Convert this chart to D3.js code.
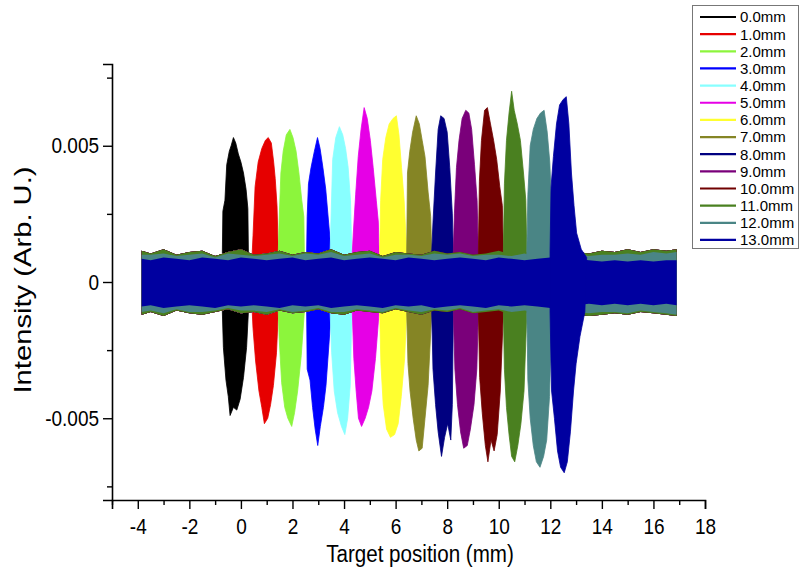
<!DOCTYPE html>
<html>
<head>
<meta charset="utf-8">
<script src="https://cdn.jsdelivr.net/npm/d3@7/dist/d3.min.js"></script>
<style>
body { margin: 0; background: #fff; }
text { font-family: Arial, "Liberation Sans", sans-serif; fill: #000; }
</style>
</head>
<body>
<script>
var w = 799, h = 573;

// legend names, one per curve
var names = ["0.0mm","1.0mm","2.0mm","3.0mm","4.0mm","5.0mm","6.0mm",
             "7.0mm","8.0mm","9.0mm","10.0mm","11.0mm","12.0mm","13.0mm"];
var palette = ["#000000","#e60000","#8cf53c","#0000ff","#88ffff","#e600e6","#ffff30",
               "#858525","#000080","#7a007a","#700000","#4a8020","#4a8585","#0000a0"];

var xTicks = [-4,-2,0,2,4,6,8,10,12,14,16,18];
var xMinor = [-5,-3,-1,1,3,5,7,9,11,13,15,17];
var yTicks = [-0.005, 0, 0.005];
var yTickLabels = ["-0.005", "0", "0.005"];
var yMinor = [-0.0075, -0.0025, 0.0025, 0.0075];

// background noise envelope (all curves)
var noiseX = [-3.85,-3.5,-3,-2.5,-2,-1.5,-1,-0.5,0,0.5,1,1.5,2,2.5,3,3.5,4,4.5,5,5.5,6,
              6.5,7,7.5,8,8.5,9,9.5,10,10.5,11,11.5,12,12.5,13,13.5,14,14.5,15,15.5,16,16.5,16.9];
var outerHi = [0.00115,0.00105,0.0012,0.001,0.0011,0.00115,0.00095,0.0011,0.0012,0.001,0.00105,
               0.00115,0.001,0.0011,0.00105,0.0012,0.001,0.0011,0.00115,0.00095,0.0011,0.00105,
               0.001,0.00115,0.00105,0.0011,0.001,0.00105,0.00115,0.001,0.0011,0.00095,0.00105,
               0.001,0.0011,0.00105,0.00115,0.0011,0.0012,0.0011,0.0012,0.00115,0.0012];
var outerLo = [-0.0012,-0.0011,-0.00125,-0.00105,-0.00115,-0.0012,-0.0011,-0.001,-0.00115,-0.0011,
               -0.0012,-0.00105,-0.00115,-0.0011,-0.001,-0.00115,-0.0012,-0.00105,-0.0011,-0.00115,
               -0.001,-0.0011,-0.0012,-0.00105,-0.0011,-0.001,-0.00115,-0.0011,-0.00105,-0.0012,
               -0.0011,-0.00115,-0.00105,-0.0011,-0.0012,-0.00125,-0.0012,-0.00115,-0.0012,-0.0011,
               -0.00115,-0.0012,-0.00125];
var midHi = [0.001,0.001,0.00105,0.00095,0.001,0.00105,0.0009,0.00105,0.001,0.00095,0.001,
             0.00105,0.00095,0.00105,0.001,0.0011,0.00095,0.001,0.00105,0.0009,0.001,0.001,
             0.00095,0.00105,0.001,0.00105,0.00095,0.001,0.001,0.00095,0.00105,0.0009,0.001,
             0.00095,0.001,0.00095,0.001,0.001,0.00105,0.001,0.0011,0.00105,0.0011];
var midLo = [-0.0011,-0.00105,-0.00115,-0.001,-0.0011,-0.0011,-0.00105,-0.00095,-0.00105,-0.00105,
             -0.0011,-0.001,-0.0011,-0.00105,-0.00095,-0.0011,-0.0011,-0.001,-0.00105,-0.0011,
             -0.00095,-0.00105,-0.0011,-0.001,-0.00105,-0.00095,-0.0011,-0.00105,-0.001,-0.0011,
             -0.00105,-0.0011,-0.001,-0.00105,-0.0011,-0.00115,-0.0011,-0.0011,-0.00115,-0.00105,
             -0.0011,-0.00115,-0.0012];
var innerHi = [0.00085,0.0008,0.0009,0.00085,0.0008,0.0009,0.00085,0.0008,0.0009,0.00085,0.0008,
               0.00085,0.0009,0.0008,0.00085,0.0009,0.0008,0.00085,0.0009,0.00085,0.0008,0.0009,
               0.00085,0.0008,0.00085,0.0009,0.00085,0.0008,0.0009,0.00085,0.0008,0.00085,0.0009,
               0.0009,0.00085,0.0008,0.00075,0.0008,0.00075,0.0008,0.00075,0.0008,0.0008];
var innerLo = [-0.0009,-0.00085,-0.00095,-0.0009,-0.00085,-0.0009,-0.00095,-0.00085,-0.0009,-0.00085,
               -0.0009,-0.00095,-0.00085,-0.0009,-0.00085,-0.00095,-0.0009,-0.00085,-0.0009,-0.00095,
               -0.00085,-0.0009,-0.00085,-0.00095,-0.0009,-0.00085,-0.0009,-0.00095,-0.00085,-0.0009,
               -0.00085,-0.0009,-0.00095,-0.0009,-0.00085,-0.0008,-0.00085,-0.0008,-0.00085,-0.0008,
               -0.00085,-0.0008,-0.00085];
var noiseOf = ["outer","outer","outer","outer","outer","outer","outer",
               "outer","outer","outer","outer","outer","mid","inner"];

// burst envelopes [position mm, intensity], upper and lower side
var burstHi = [
 [[-0.72,0.0011],[-0.70,0.0026],[-0.62,0.0030],[-0.55,0.0043],[-0.45,0.0048],[-0.38,0.0050],[-0.29,0.0053],[-0.2,0.0051],[-0.1,0.0047],[0.0,0.0044],[0.1,0.0040],[0.2,0.0034],[0.27,0.0027],[0.29,0.0011]],
 [[0.44,0.0011],[0.47,0.0017],[0.55,0.0035],[0.67,0.0044],[0.81,0.0049],[0.95,0.0052],[1.06,0.0053],[1.18,0.0051],[1.27,0.0044],[1.33,0.0038],[1.40,0.0028],[1.45,0.0011]],
 [[1.45,0.0011],[1.48,0.0022],[1.55,0.0040],[1.64,0.0048],[1.76,0.0054],[1.9,0.0056],[2.02,0.0053],[2.14,0.0048],[2.25,0.0040],[2.36,0.0030],[2.44,0.0024],[2.46,0.0011]],
 [[2.55,0.0011],[2.57,0.0024],[2.62,0.0036],[2.72,0.0042],[2.85,0.0048],[2.97,0.0053],[3.07,0.0049],[3.18,0.0042],[3.29,0.0034],[3.40,0.0022],[3.50,0.0011]],
 [[3.46,0.0011],[3.5,0.0025],[3.56,0.0045],[3.68,0.0053],[3.82,0.0057],[3.95,0.0054],[4.06,0.0049],[4.16,0.0042],[4.25,0.0030],[4.30,0.0011]],
 [[4.32,0.0011],[4.36,0.0018],[4.45,0.0032],[4.55,0.0046],[4.66,0.0056],[4.78,0.0064],[4.9,0.0060],[5.02,0.0052],[5.13,0.0042],[5.25,0.0030],[5.33,0.0022],[5.36,0.0011]],
 [[5.38,0.0011],[5.42,0.0030],[5.5,0.0045],[5.62,0.0053],[5.75,0.0058],[5.9,0.0060],[6.03,0.0061],[6.13,0.0054],[6.23,0.0042],[6.33,0.0030],[6.43,0.0011]],
 [[6.43,0.0011],[6.46,0.0040],[6.55,0.0048],[6.66,0.0055],[6.8,0.0061],[6.92,0.0058],[7.03,0.0052],[7.14,0.0046],[7.26,0.0033],[7.36,0.0024],[7.40,0.0011]],
 [[7.40,0.0011],[7.45,0.0022],[7.55,0.0040],[7.65,0.0056],[7.75,0.0061],[7.88,0.0060],[8.0,0.0055],[8.1,0.0042],[8.2,0.0025],[8.24,0.0011]],
 [[8.24,0.0011],[8.28,0.0025],[8.36,0.0042],[8.46,0.0052],[8.58,0.0060],[8.72,0.0063],[8.84,0.0062],[8.95,0.0056],[9.06,0.0043],[9.16,0.0030],[9.21,0.0011]],
 [[9.21,0.0011],[9.25,0.0037],[9.33,0.0052],[9.45,0.0063],[9.56,0.0064],[9.68,0.0058],[9.8,0.0052],[9.92,0.0045],[10.04,0.0035],[10.14,0.0028],[10.18,0.0011]],
 [[10.18,0.0011],[10.22,0.0036],[10.3,0.0052],[10.4,0.0062],[10.5,0.0070],[10.6,0.0063],[10.72,0.0058],[10.84,0.0052],[10.96,0.0040],[11.05,0.0030],[11.09,0.0011]],
 [[11.09,0.0011],[11.13,0.0032],[11.22,0.0050],[11.34,0.0056],[11.48,0.0060],[11.62,0.0062],[11.76,0.0063],[11.88,0.0055],[11.98,0.0044],[12.04,0.0030],[12.06,0.0011]],
 [[11.99,0.0011],[12.03,0.0035],[12.12,0.0046],[12.24,0.0058],[12.36,0.0065],[12.5,0.0067],[12.62,0.0068],[12.72,0.0058],[12.82,0.0040],[12.92,0.0028],[13.02,0.0018],[13.2,0.0012],[13.41,0.0009]]
];
var burstLo = [
 [[-0.72,-0.0011],[-0.68,-0.0024],[-0.58,-0.0036],[-0.49,-0.0042],[-0.42,-0.0049],[-0.29,-0.0046],[-0.16,-0.0047],[-0.03,-0.0043],[0.1,-0.0035],[0.22,-0.0024],[0.29,-0.0011]],
 [[0.44,-0.0011],[0.47,-0.0017],[0.57,-0.0029],[0.7,-0.0040],[0.81,-0.0046],[0.91,-0.0052],[1.04,-0.0050],[1.15,-0.0045],[1.26,-0.0038],[1.38,-0.0026],[1.45,-0.0011]],
 [[1.45,-0.0011],[1.48,-0.0020],[1.58,-0.0037],[1.7,-0.0046],[1.82,-0.0050],[1.97,-0.0053],[2.08,-0.0048],[2.2,-0.0040],[2.34,-0.0027],[2.46,-0.0011]],
 [[2.55,-0.0011],[2.57,-0.0032],[2.68,-0.0036],[2.78,-0.0046],[2.88,-0.0054],[2.98,-0.0060],[3.08,-0.0053],[3.2,-0.0046],[3.3,-0.0038],[3.42,-0.0022],[3.50,-0.0011]],
 [[3.46,-0.0011],[3.52,-0.0026],[3.62,-0.0040],[3.75,-0.0048],[3.9,-0.0053],[4.03,-0.0056],[4.14,-0.0050],[4.24,-0.0038],[4.30,-0.0011]],
 [[4.32,-0.0011],[4.38,-0.0028],[4.47,-0.0040],[4.56,-0.0050],[4.68,-0.0053],[4.82,-0.0050],[4.95,-0.0046],[5.08,-0.0040],[5.22,-0.0028],[5.36,-0.0011]],
 [[5.38,-0.0011],[5.43,-0.0030],[5.52,-0.0045],[5.65,-0.0054],[5.8,-0.0057],[5.96,-0.0056],[6.1,-0.0052],[6.22,-0.0042],[6.35,-0.0028],[6.43,-0.0011]],
 [[6.43,-0.0011],[6.48,-0.0030],[6.56,-0.0040],[6.68,-0.0050],[6.8,-0.0058],[6.9,-0.0062],[7.03,-0.0061],[7.14,-0.0050],[7.26,-0.0038],[7.40,-0.0011]],
 [[7.40,-0.0011],[7.45,-0.0032],[7.55,-0.0045],[7.65,-0.0055],[7.78,-0.0064],[7.9,-0.0057],[8.02,-0.0052],[8.14,-0.0058],[8.2,-0.0045],[8.24,-0.0011]],
 [[8.24,-0.0011],[8.3,-0.0032],[8.4,-0.0045],[8.52,-0.0055],[8.64,-0.0061],[8.78,-0.0060],[8.9,-0.0054],[9.04,-0.0045],[9.15,-0.0032],[9.21,-0.0011]],
 [[9.21,-0.0011],[9.26,-0.0035],[9.36,-0.0048],[9.48,-0.0060],[9.58,-0.0066],[9.7,-0.0058],[9.82,-0.0062],[9.94,-0.0056],[10.06,-0.0040],[10.18,-0.0011]],
 [[10.18,-0.0011],[10.22,-0.0032],[10.3,-0.0046],[10.4,-0.0056],[10.5,-0.0064],[10.62,-0.0066],[10.74,-0.0060],[10.86,-0.0052],[10.98,-0.0040],[11.09,-0.0011]],
 [[11.09,-0.0011],[11.13,-0.0036],[11.22,-0.0050],[11.34,-0.0060],[11.46,-0.0066],[11.6,-0.0068],[11.74,-0.0064],[11.86,-0.0058],[11.97,-0.0042],[12.06,-0.0011]],
 [[11.99,-0.0011],[12.05,-0.0040],[12.16,-0.0050],[12.28,-0.0062],[12.4,-0.0068],[12.54,-0.0070],[12.66,-0.0066],[12.78,-0.0055],[12.9,-0.0040],[13.0,-0.0030],[13.15,-0.0020],[13.34,-0.0011]]
];

var noiseBands = {
  outer: [outerHi, outerLo],
  mid: [midHi, midLo],
  inner: [innerHi, innerLo]
};

var x = d3.scaleLinear().domain([-5, 18]).range([112, 705]);
var y = d3.scaleLinear().domain([-0.008, 0.008]).range([500, 64]);

var svg = d3.select("body").append("svg")
    .attr("width", w)
    .attr("height", h);

var outline = d3.line().x(function(d){ return x(d[0]); }).y(function(d){ return y(d[1]); });

function closedShape(hi, lo) {
    return outline(hi.concat(lo.slice().reverse())) + "Z";
}

var plot = svg.append("g").attr("class", "curves");

names.forEach(function(n, i){
    var g = plot.append("g");
    var band = noiseBands[noiseOf[i]];
    var hi = noiseX.map(function(v, k){ return [v, band[0][k]]; });
    var lo = noiseX.map(function(v, k){ return [v, band[1][k]]; });
    g.append("path")
        .attr("d", closedShape(hi, lo))
        .style("fill", palette[i]);
    g.append("path")
        .attr("d", closedShape(burstHi[i], burstLo[i]))
        .style("fill", palette[i])
        .style("stroke", palette[i])
        .style("stroke-width", 0.8);
});

// axes
svg.append("g")
    .attr("transform", "translate(0," + y(-0.008) + ")")
    .call(d3.axisBottom(x).tickValues(xTicks).tickSize(9).tickFormat(String))
    .selectAll(".tick text")
    .attr("y", 0).attr("dy", 0)
    .attr("transform", "translate(0,34) scale(1,1.18)");
svg.append("g")
    .attr("transform", "translate(0," + y(-0.008) + ")")
    .call(d3.axisBottom(x).tickValues(xMinor).tickSize(5).tickFormat(""))
    .select(".domain").remove();

svg.append("g")
    .attr("transform", "translate(" + x(-5) + ",0)")
    .call(d3.axisLeft(y).tickValues(yTicks).tickSize(9).tickPadding(4)
        .tickFormat(function(d, i){ return yTickLabels[i]; }))
    .selectAll(".tick text")
    .attr("transform", "scale(1,1.18)");
svg.append("g")
    .attr("transform", "translate(" + x(-5) + ",0)")
    .call(d3.axisLeft(y).tickValues(yMinor).tickSize(5).tickFormat(""))
    .select(".domain").remove();

svg.selectAll(".domain").style("stroke", "#000").style("stroke-width", 1.6);
svg.selectAll(".tick line").style("stroke", "#000").style("stroke-width", 1.4);
svg.selectAll(".tick text").style("font-size", "19px").style("fill", "#000")
    .style("font-family", "Arial, 'Liberation Sans', sans-serif");

// titles
svg.append("text")
    .attr("transform", "translate(420,562) scale(1,1.2)")
    .attr("text-anchor", "middle")
    .style("font-size", "20.6px")
    .text("Target position (mm)");
svg.append("text")
    .attr("transform", "translate(31,280) rotate(-90) scale(1.27,1)")
    .attr("text-anchor", "middle")
    .style("font-size", "23px")
    .text("Intensity (Arb. U.)");

// legend
var legend = svg.append("g").attr("class", "legend");
legend.append("rect")
    .attr("x", 692.5).attr("y", 5.5)
    .attr("width", 106).attr("height", 243)
    .style("fill", "#fff").style("stroke", "#777").style("stroke-width", 1);
var rows = legend.selectAll("g.row")
    .data(names)
    .enter()
    .append("g")
    .attr("class", "row")
    .attr("transform", function(d, i){ return "translate(0," + (17 + i * 17.15) + ")"; });
rows.append("line")
    .attr("x1", 700).attr("x2", 736)
    .style("stroke", function(d, i){ return palette[i]; })
    .style("stroke-width", 2.2);
rows.append("text")
    .attr("x", 740)
    .attr("dy", "0.36em")
    .style("font-size", "15px")
    .text(function(d){ return d; });
</script>
</body>
</html>
